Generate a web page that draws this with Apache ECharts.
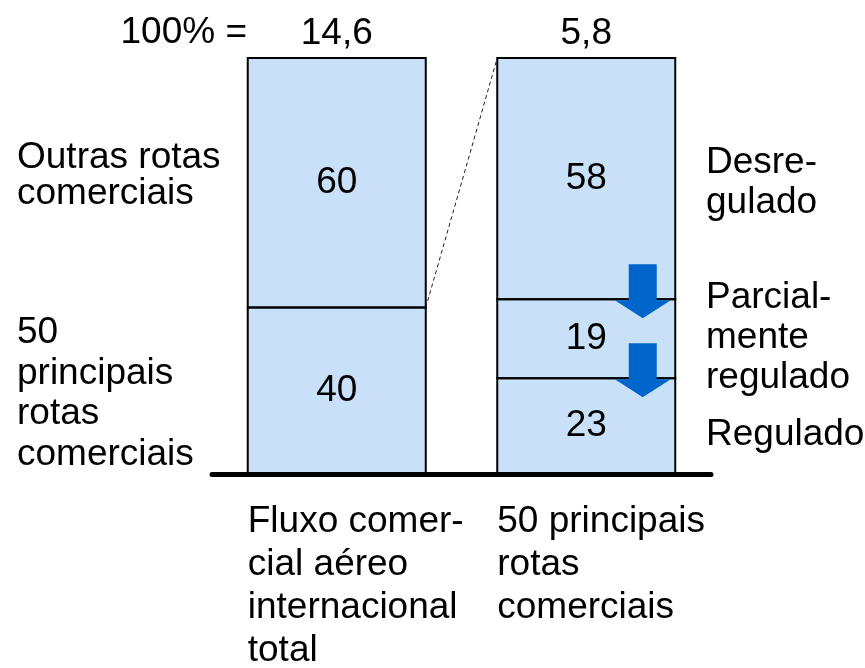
<!DOCTYPE html>
<html>
<head>
<meta charset="utf-8">
<script src="https://cdn.jsdelivr.net/npm/echarts@6/dist/echarts.min.js"></script>
<style>
  html, body { margin: 0; padding: 0; background: #ffffff; }
  #chart { width: 865px; height: 668px; }
</style>
</head>
<body>
<div id="chart"></div>
<script>
// Categories (bars) and their totals
const categories = ['Fluxo comer-\ncial aéreo\ninternacional\ntotal', '50 principais\nrotas\ncomerciais'];
const totals = ['14,6', '5,8'];

// Shares (%) bottom to top
const totalFlowShares = [40, 60];          // 50 principais rotas, outras rotas
const topRouteShares = [23, 19, 58];       // regulado, parcialmente regulado, desregulado

// Segment side labels, bottom to top
const totalFlowLabels = ['50\nprincipais\nrotas\ncomerciais', 'Outras rotas\ncomerciais'];
const topRouteLabels = ['Regulado', 'Parcial-\nmente\nregulado', 'Desre-\ngulado'];

const FONT = '"Liberation Sans", Arial, Helvetica, sans-serif';
const FS = 37;
const FILL = '#c8e1f9';
const ARROW = '#0066cc';
const BAR_W = 178;

const chart = echarts.init(document.getElementById('chart'));

const shareSets = [totalFlowShares, topRouteShares];
const nSeg = Math.max(totalFlowShares.length, topRouteShares.length);
const series = [];
for (let k = 0; k < nSeg; k++) {
  series.push({
    type: 'bar',
    stack: 'share',
    barWidth: BAR_W,
    data: shareSets.map(s => (s[k] !== undefined ? s[k] : '-')),
    itemStyle: { color: FILL, borderWidth: 0 },
    label: {
      show: true, position: 'inside', color: '#000',
      fontSize: FS, fontFamily: FONT
    },
    silent: true
  });
}

// Segment outlines: [category, start, end]
const outlineData = [];
shareSets.forEach((s, ci) => {
  let c = 0;
  s.forEach(v => { outlineData.push([ci, c, c + v]); c += v; });
});
series.push({
  type: 'custom',
  silent: true,
  z: 5,
  data: outlineData,
  encode: { x: 0, y: [1, 2] },
  renderItem: (params, api) => {
    const p0 = api.coord([api.value(0), api.value(1)]);
    const p1 = api.coord([api.value(0), api.value(2)]);
    return {
      type: 'rect',
      shape: { x: p0[0] - BAR_W / 2, y: p1[1], width: BAR_W, height: p0[1] - p1[1] },
      style: { fill: null, stroke: '#000', lineWidth: 2 }
    };
  }
});

// Totals above each bar
series.push({
  type: 'scatter',
  symbolSize: 0,
  data: [100, 100],
  itemStyle: { opacity: 1, color: 'transparent' },
  label: {
    show: true, position: 'top', distance: 6,
    formatter: p => totals[p.dataIndex],
    color: '#000', fontSize: FS, fontFamily: FONT
  },
  silent: true
});

chart.setOption({
  animation: false,
  grid: { left: 212, top: 58, width: 499, height: 416 },
  xAxis: {
    type: 'category',
    data: categories,
    z: 10,
    axisLine: { lineStyle: { color: '#000', width: 5, cap: 'round' } },
    axisTick: { show: false },
    axisLabel: { show: false }
  },
  yAxis: {
    type: 'value', min: 0, max: 100, show: false
  },
  series: series
});

// Annotations positioned from the axes
function px(cat, val) { return chart.convertToPixel({ xAxisIndex: 0, yAxisIndex: 0 }, [cat, val]); }

const g = [];
const textEl = (txt, x, y, align, vAlign, lh) => ({
  type: 'text', x: x, y: y, z: 20,
  style: {
    text: txt, fill: '#000', font: FS + 'px ' + FONT,
    textAlign: align, textVerticalAlign: vAlign, lineHeight: lh
  }
});

// "100% =" header
g.push(textEl('100% =', 247, 33, 'right', 'middle', FS));

// Left side labels (first bar)
let cum = 0;
const leftLH = [40.5, 36];
const leftNudge = [3, -7];
totalFlowShares.forEach((v, i) => {
  const mid = px(0, cum + v / 2)[1] + leftNudge[i];
  g.push(textEl(totalFlowLabels[i], 17, mid, 'left', 'middle', leftLH[i]));
  cum += v;
});

// Right side labels (second bar)
cum = 0;
const rightNudge = [9, -1, 4];
topRouteShares.forEach((v, i) => {
  const mid = px(1, cum + v / 2)[1] + rightNudge[i];
  g.push(textEl(topRouteLabels[i], 706, mid, 'left', 'middle', 40));
  cum += v;
});

// Category labels under the bars, left-aligned with bar edges
categories.forEach((c, i) => {
  const cx = px(i, 0)[0];
  g.push(textEl(c, cx - BAR_W / 2, 500, 'left', 'top', 43));
});

// Dashed connector: top of the 50-route segment to top of the second bar
const q0 = px(0, totalFlowShares[0]);
const q1 = px(1, 100);
g.push({
  type: 'line', z: 20,
  shape: { x1: q0[0] + BAR_W / 2, y1: q0[1], x2: q1[0] - BAR_W / 2, y2: q1[1] },
  style: { stroke: '#222', lineWidth: 1, lineDash: [4, 3] }
});

// Downward arrows across the regulation boundaries of the second bar
const ax = px(1, 0)[0] + 56.5;
[topRouteShares[0] + topRouteShares[1], topRouteShares[0]].forEach(b => {
  const y = px(1, b)[1];
  g.push({
    type: 'polygon', z: 25,
    shape: {
      points: [
        [ax - 14, y - 35], [ax + 14, y - 35], [ax + 14, y + 1],
        [ax + 28, y + 1], [ax, y + 19], [ax - 28, y + 1], [ax - 14, y + 1]
      ]
    },
    style: { fill: ARROW }
  });
});

chart.setOption({ graphic: g });
</script>
</body>
</html>
